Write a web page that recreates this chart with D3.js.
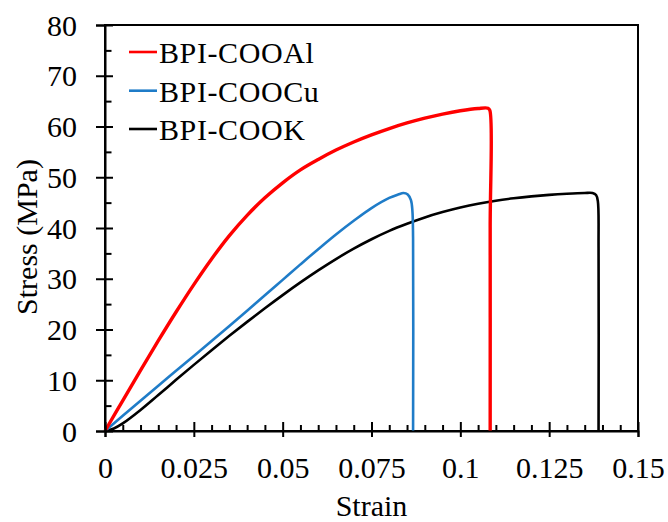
<!DOCTYPE html>
<html>
<head>
<meta charset="utf-8">
<script src="https://cdn.jsdelivr.net/npm/d3@7"></script>
<style>
  html, body { margin: 0; padding: 0; background: #fff; }
  svg { display: block; }
  text { font-family: "Liberation Serif", "Times New Roman", "DejaVu Serif", serif; fill: #000; }
</style>
</head>
<body>
<svg id="chart" width="668" height="522" font-family="Liberation Serif, serif"></svg>
<script>
// ---- data ----
const seriesNames = ["BPI-COOAl", "BPI-COOCu", "BPI-COOK"];
const seriesColors = ["#ff0000", "#1f7cc8", "#000000"];

const alStrain = [0, 0.005, 0.01, 0.015, 0.02, 0.025, 0.03, 0.035, 0.04, 0.045, 0.05, 0.055, 0.06, 0.065, 0.07, 0.075, 0.08, 0.085, 0.09, 0.095, 0.1, 0.105, 0.1078, 0.1083, 0.1084, 0.1084];
const alStress = [0, 6.0, 11.95, 17.8, 23.45, 28.85, 33.9, 38.5, 42.5, 45.95, 48.9, 51.45, 53.5, 55.35, 56.95, 58.35, 59.6, 60.7, 61.65, 62.45, 63.1, 63.55, 63.6, 63.2, 40, 0];

const cuStrain = [0, 0.005, 0.01, 0.015, 0.02, 0.025, 0.03, 0.035, 0.04, 0.045, 0.05, 0.055, 0.06, 0.065, 0.07, 0.075, 0.08, 0.0825, 0.084, 0.0852, 0.0861, 0.0865, 0.0867, 0.0867];
const cuStress = [0, 3.0, 5.98, 8.93, 11.85, 14.78, 17.73, 20.7, 23.7, 26.73, 29.78, 32.83, 35.83, 38.73, 41.43, 43.93, 45.93, 46.6, 46.9, 46.6, 45.5, 43.5, 38, 0];

const kStrain = [0, 0.0025, 0.005, 0.01, 0.015, 0.02, 0.025, 0.03, 0.035, 0.04, 0.045, 0.05, 0.055, 0.06, 0.065, 0.07, 0.075, 0.08, 0.085, 0.09, 0.095, 0.1, 0.105, 0.11, 0.115, 0.12, 0.125, 0.13, 0.135, 0.1372, 0.1382, 0.1387, 0.1389, 0.1389];
const kStress = [0, 0.5, 1.5, 4.15, 7.1, 10.08, 13.03, 15.93, 18.75, 21.5, 24.18, 26.78, 29.28, 31.65, 33.88, 35.93, 37.78, 39.43, 40.83, 42.08, 43.13, 44.03, 44.78, 45.38, 45.85, 46.23, 46.53, 46.75, 46.9, 46.9, 46.5, 45.3, 36, 0];

const xMajorTicks = [0, 0.025, 0.05, 0.075, 0.1, 0.125, 0.15];
const xTickLabels = ["0", "0.025", "0.05", "0.075", "0.1", "0.125", "0.15"];
const yMajorTicks = [0, 10, 20, 30, 40, 50, 60, 70, 80];
const yTickLabels = ["0", "10", "20", "30", "40", "50", "60", "70", "80"];
const xTitle = "Strain";
const yTitle = "Stress (MPa)";

// ---- layout ----
const L = 105, R = 638, T = 25, B = 431;
const svg = d3.select("#chart");
const x = d3.scaleLinear().domain([0, 0.15]).range([L, R]);
const y = d3.scaleLinear().domain([0, 80]).range([B, T]);

const xMinor = d3.range(0, 0.1500001, 0.005).filter(v => !xMajorTicks.some(m => Math.abs(m - v) < 1e-9));
const yMinor = d3.range(5, 80, 10);

// frame (top/right)
svg.append("rect").attr("x", L).attr("y", T).attr("width", R - L).attr("height", B - T)
  .attr("fill", "none").attr("stroke", "#000").attr("stroke-width", 2);

// ---- series ----
const series = [
  { s: alStrain, v: alStress, w: 3.4 },
  { s: cuStrain, v: cuStress, w: 2.6 },
  { s: kStrain, v: kStress, w: 2.6 }
];
const line = d3.line().x(d => x(d[0])).y(d => y(d[1])).curve(d3.curveCatmullRom.alpha(0.5));
[2, 1, 0].forEach(i => {
  const d = series[i];
  svg.append("path")
    .datum(d.s.map((sv, k) => [sv, d.v[k]]))
    .attr("d", line)
    .attr("fill", "none")
    .attr("stroke", seriesColors[i])
    .attr("stroke-width", d.w)
    .attr("stroke-linejoin", "round");
});

// ---- axes ----
const fs = 30;
const gx = svg.append("g").attr("transform", `translate(0,${B})`)
  .call(d3.axisBottom(x).tickValues(xMajorTicks).tickFormat((d, i) => xTickLabels[i]).tickSize(6));
gx.attr("font-family", null).attr("font-size", null);
gx.select(".domain").attr("stroke", "#000").attr("stroke-width", 2);
gx.selectAll(".tick line").attr("y1", -9).attr("y2", 6).attr("stroke", "#000").attr("stroke-width", 2);
gx.selectAll(".tick text").attr("y", 47).attr("dy", 0).style("font-size", fs + "px");

const gxm = svg.append("g").attr("transform", `translate(0,${B})`)
  .call(d3.axisBottom(x).tickValues(xMinor).tickFormat("").tickSize(-6));
gxm.select(".domain").remove();
gxm.selectAll(".tick line").attr("stroke", "#000").attr("stroke-width", 2);

const gy = svg.append("g").attr("transform", `translate(${L},0)`)
  .call(d3.axisLeft(y).tickValues(yMajorTicks).tickFormat((d, i) => yTickLabels[i]).tickSize(9));
gy.attr("font-family", null).attr("font-size", null);
gy.select(".domain").attr("stroke", "#000").attr("stroke-width", 2);
gy.selectAll(".tick line").attr("x1", -9).attr("x2", 8).attr("stroke", "#000").attr("stroke-width", 2);
gy.selectAll(".tick text").attr("x", -28).attr("dy", 0).attr("y", 10).style("font-size", fs + "px");

const gym = svg.append("g").attr("transform", `translate(${L},0)`)
  .call(d3.axisLeft(y).tickValues(yMinor).tickFormat("").tickSize(-6.5));
gym.select(".domain").remove();
gym.selectAll(".tick line").attr("stroke", "#000").attr("stroke-width", 2);

// titles
svg.append("text").attr("x", (L + R) / 2).attr("y", 516).attr("text-anchor", "middle")
  .style("font-size", fs + "px").text(xTitle);
svg.append("text").attr("transform", "translate(37,237) rotate(-90)").attr("text-anchor", "middle")
  .style("font-size", fs + "px").text(yTitle);

// ---- legend ----
const legY = [52, 90.7, 129];
seriesNames.forEach((n, i) => {
  svg.append("line").attr("x1", 129).attr("x2", 157).attr("y1", legY[i]).attr("y2", legY[i])
    .attr("stroke", seriesColors[i]).attr("stroke-width", 2.6);
  svg.append("text").attr("x", 159).attr("y", legY[i] + 11).style("font-size", fs + "px")
    .style("letter-spacing", "0.6px").text(n);
});
</script>
</body>
</html>
